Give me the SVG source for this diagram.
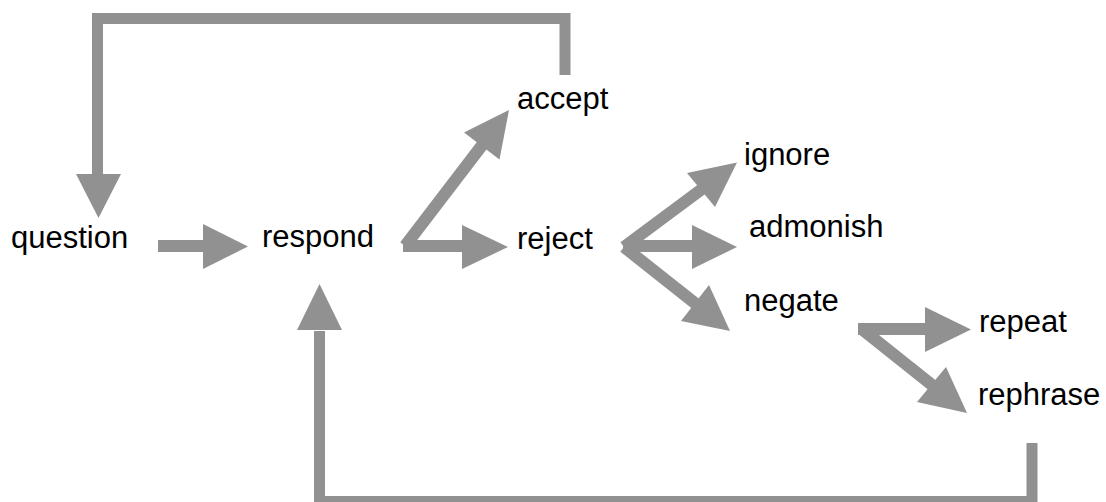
<svg xmlns="http://www.w3.org/2000/svg" width="1106" height="502" viewBox="0 0 1106 502">
<style>
.t{font-family:"Liberation Sans",Arial,sans-serif;font-size:31px;fill:#000}
.s{fill:none;stroke:#919191;stroke-width:12}
.l{fill:none;stroke:#919191;stroke-width:11;stroke-linejoin:miter}
.h{fill:#919191}
</style>
<rect width="1106" height="502" fill="#fff"/>
<g id="connectors">
<line class="s" x1="158" y1="246" x2="204" y2="246"/>
<polygon class="h" points="203,224 248,246.5 203,269"/>
<line class="s" x1="405" y1="246" x2="483" y2="144"/>
<polygon class="h" points="509,110 464,132.5 499.5,159.5"/>
<line class="s" x1="403" y1="246" x2="463" y2="246"/>
<polygon class="h" points="462,225 508,247 462,269"/>
<line class="s" x1="624" y1="247" x2="702" y2="189"/>
<polygon class="h" points="737,162.5 687,173 715,207"/>
<line class="s" x1="623" y1="246" x2="693" y2="246"/>
<polygon class="h" points="692,225 737,247 692,269"/>
<line class="s" x1="624" y1="247" x2="696" y2="304"/>
<polygon class="h" points="730,331 681,321 709,285"/>
<line class="s" x1="858" y1="329" x2="926" y2="329"/>
<polygon class="h" points="925,307 971,329.5 925,352"/>
<line class="s" x1="863" y1="330" x2="932" y2="385"/>
<polygon class="h" points="967,413 917,402 946,367"/>
<polyline class="l" points="565,75 565,18.5 97.5,18.5 97.5,175"/>
<polygon class="h" points="76,174 121,174 98.5,218"/>
<polyline class="l" points="1032,443 1032,501.5 319.5,501.5 319.5,331"/>
<polygon class="h" points="297,330 342,330 319.5,284"/>
</g>
<g id="question"><text class="t" x="11" y="248">question</text></g>
<g id="respond"><text class="t" x="262" y="247">respond</text></g>
<g id="accept"><text class="t" x="517" y="109">accept</text></g>
<g id="reject"><text class="t" x="517" y="249">reject</text></g>
<g id="ignore"><text class="t" x="744" y="165">ignore</text></g>
<g id="admonish"><text class="t" x="749" y="237">admonish</text></g>
<g id="negate"><text class="t" x="744" y="311">negate</text></g>
<g id="repeat"><text class="t" x="979" y="332">repeat</text></g>
<g id="rephrase"><text class="t" x="978" y="405">rephrase</text></g>
</svg>
